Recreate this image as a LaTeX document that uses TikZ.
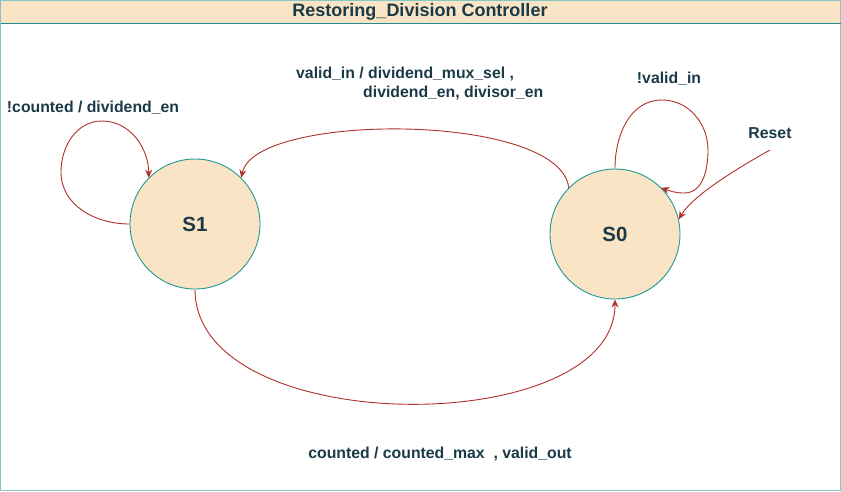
\documentclass[tikz,border=0pt]{standalone}
\usepackage{fontspec}
\setmainfont{Liberation Sans}
\usetikzlibrary{arrows.meta}
\definecolor{txt}{HTML}{1B3A48}
\definecolor{edge}{HTML}{B0302A}
\definecolor{sfill}{HTML}{FAE4C6}
\definecolor{sline}{HTML}{1F9A96}
\definecolor{frame}{HTML}{84C8C6}
\definecolor{tline}{HTML}{23898A}
\tikzset{
  state/.style={circle, draw=sline, fill=sfill, line width=0.9pt, minimum size=130pt, inner sep=0pt, text=txt, font=\fontsize{20.5}{24}\selectfont\bfseries},
  lbl/.style={text=txt, font=\fontsize{15.8}{18}\selectfont\bfseries, inner sep=0pt},
  trans/.style={draw=edge, line width=0.9pt, -{Stealth[length=8pt,width=7pt]}},
}
\begin{document}
\begin{tikzpicture}[x=1pt,y=-1pt]
\useasboundingbox (0,0) rectangle (841,491);
\fill[white] (0,0) rectangle (841,491);
\fill[sfill] (0.5,0.5) rectangle (840.5,23);
\draw[frame, line width=1pt] (0.5,0.5) rectangle (840.5,490.5);
\draw[tline, line width=1pt] (0.5,23) -- (840.5,23);
\node[text=txt, font=\fontsize{18}{20}\selectfont\bfseries, inner sep=0pt] (title) at (420,12) {Restoring\_Division Controller};

\node[state] (S1) at (195,224) {S1};
\node[state] (S0) at (615,234) {S0};

\coordinate (rst) at (770,150);
\node[lbl] (lreset) at (770,133) {Reset};
\node[lbl] (lloop1) at (93,108) {!counted / dividend\_en};
\node[lbl] (lloop0) at (669,79) {!valid\_in};
\node[lbl, anchor=west] (lt1) at (296,74) {valid\_in / dividend\_mux\_sel ,};
\node[lbl, anchor=west] (lt2) at (363,93) {dividend\_en, divisor\_en};
\node[lbl] (lbot) at (440,454) {counted / counted\_max \ , valid\_out};

% S1 self loop
\draw[trans] (S1.west) to[out=180,in=270] (61,172) to[out=90,in=180] (102,121) to[out=0,in=90] (S1.135);
% S0 -> S1 top arc
\draw[trans] (S0.135) .. controls (560,112) and (255,112) .. (S1.45);
% S0 self loop
\draw[trans] (S0.north) to[out=90,in=180] (662,100) to[out=0,in=90] (708,150) to[out=270,in=0] (684,193) to[out=180,in=-20] (S0.45);
% Reset
\draw[trans] (rst) .. controls (720,178) and (690,200) .. (S0.13);
% S1 -> S0 bottom
\draw[trans] (S1.south) .. controls (195,440) and (615,440) .. (S0.south);
\end{tikzpicture}
\end{document}
